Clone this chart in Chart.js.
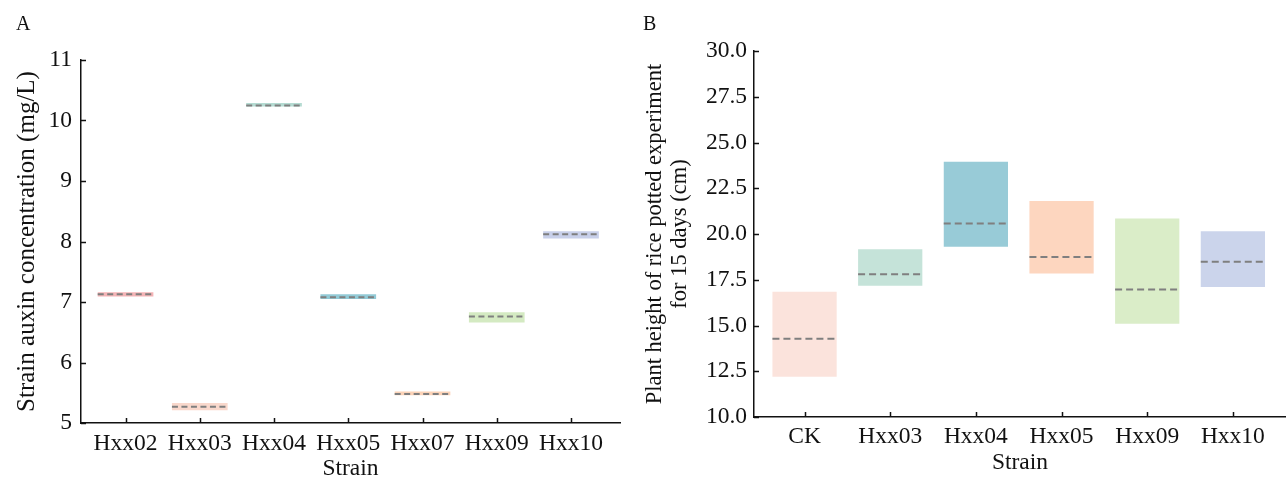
<!DOCTYPE html>
<html lang="en">
  <head>
    <meta charset="UTF-8" />
    <title>Strain auxin and rice height</title>
    <style>
      body {
        margin: 0;
        background: #fff;
        font-family: "Liberation Serif", "Times New Roman", serif;
      }
      #wrap {
        position: relative;
        width: 1286px;
        height: 483px;
        overflow: hidden;
      }
      .panel {
        position: absolute;
        top: 0;
        height: 483px;
      }
      #boxA { left: 0; width: 640px; }
      #boxB { left: 640px; width: 646px; }
      .tag {
        position: absolute;
        top: 13px;
        font-size: 20px;
        line-height: 20px;
        color: #111;
      }
    </style>
  </head>
  <body>
    <div id="wrap">
      <div class="panel" id="boxA"><canvas id="chartA"></canvas></div>
      <div class="panel" id="boxB"><canvas id="chartB"></canvas></div>
      <div class="tag" style="left:16px">A</div>
      <div class="tag" style="left:643px">B</div>
    </div>

    <script src="https://cdn.jsdelivr.net/npm/chart.js"></script>
    <script>
      // panel A: auxin concentration per strain
      const categoriesA = ["Hxx02", "Hxx03", "Hxx04", "Hxx05", "Hxx07", "Hxx09", "Hxx10"];
      const lowA = [7.09, 5.21, 10.23, 7.05, 5.46, 6.66, 8.05];
      const highA = [7.16, 5.33, 10.29, 7.13, 5.52, 6.83, 8.17];
      const medianA = [7.13, 5.27, 10.25, 7.08, 5.48, 6.76, 8.12];
      const colorsA = ["#f5b4b6", "#f9d8cc", "#b5dbd2", "#92cad6", "#fcd3b8", "#d4eac2", "#c8d0ea"];

      // panel B: plant height after 15 days
      const categoriesB = ["CK", "Hxx03", "Hxx04", "Hxx05", "Hxx09", "Hxx10"];
      const lowB = [12.2, 17.17, 19.3, 17.84, 15.1, 17.1];
      const highB = [16.85, 19.16, 23.95, 21.8, 20.85, 20.15];
      const medianB = [14.27, 17.8, 20.58, 18.75, 16.97, 18.48];
      const colorsB = ["#fbe3dc", "#c5e3d9", "#98cbd7", "#fdd6bf", "#daedc8", "#cbd4eb"];

      const serif = "'Liberation Serif', 'Times New Roman', serif";
      const ink = "#111";

      // dashed median line across each bar + inward tick marks
      const medianPlugin = {
        id: "medians",
        afterDatasetsDraw(chart, args, opts) {
          const ctx = chart.ctx;
          const y = chart.scales.y;
          const bars = chart.getDatasetMeta(0).data;
          ctx.save();
          ctx.strokeStyle = "#7f7f7f";
          ctx.lineWidth = 2;
          ctx.setLineDash(opts.dash);
          bars.forEach((bar, i) => {
            const py = y.getPixelForValue(opts.values[i]);
            ctx.beginPath();
            ctx.moveTo(bar.x - bar.width / 2, py);
            ctx.lineTo(bar.x + bar.width / 2, py);
            ctx.stroke();
          });
          ctx.restore();
        },
        afterDraw(chart) {
          const ctx = chart.ctx;
          const {x, y} = chart.scales;
          const area = chart.chartArea;
          ctx.save();
          ctx.strokeStyle = ink;
          ctx.lineWidth = 1.5;
          ctx.beginPath();
          y.ticks.forEach((t, i) => {
            const py = Math.round(y.getPixelForTick(i)) + 0.5;
            ctx.moveTo(area.left, py);
            ctx.lineTo(area.left + 5, py);
          });
          x.ticks.forEach((t, i) => {
            const px = Math.round(x.getPixelForTick(i)) + 0.5;
            ctx.moveTo(px, area.bottom);
            ctx.lineTo(px, area.bottom - 5);
          });
          ctx.stroke();
          ctx.restore();
        },
      };

      function makeChart(id, cfg) {
        const data = cfg.categories.map((c, i) => ({x: i, y: [cfg.low[i], cfg.high[i]]}));
        return new Chart(document.getElementById(id), {
          type: "bar",
          data: {
            datasets: [
              {
                data: data,
                backgroundColor: cfg.colors,
                borderWidth: 0,
                categoryPercentage: 0.75,
                barPercentage: 1.0,
              },
            ],
          },
          plugins: [medianPlugin],
          options: {
            responsive: true,
            maintainAspectRatio: false,
            animation: false,
            layout: {padding: cfg.padding},
            plugins: {
              legend: {display: false},
              tooltip: {enabled: false},
              medians: {values: cfg.medians, dash: cfg.dash},
            },
            scales: {
              x: {
                type: "linear",
                offset: false,
                min: cfg.xMin,
                max: cfg.xMax,
                grid: {display: false, drawTicks: false, offset: false},
                border: {display: true, color: ink, width: 1.5},
                afterFit: (s) => { s.height = cfg.xHeight; },
                ticks: {
                  stepSize: 1,
                  includeBounds: false,
                  autoSkip: false,
                  maxRotation: 0,
                  padding: cfg.xPad,
                  color: ink,
                  font: {family: serif, size: 23.5},
                  callback: (v) => cfg.categories[v] ?? "",
                },
                title: {
                  display: true,
                  text: "Strain",
                  color: ink,
                  padding: 0,
                  font: {family: serif, size: 23.5},
                },
              },
              y: {
                min: cfg.yMin,
                max: cfg.yMax,
                grid: {display: false, drawTicks: false},
                border: {display: true, color: ink, width: 1.5},
                afterFit: (s) => { s.width = cfg.yWidth; },
                ticks: {
                  stepSize: cfg.yStep,
                  padding: cfg.yPad,
                  color: ink,
                  font: {family: serif, size: 23.5},
                  callback: cfg.yFormat,
                },
                title: {
                  display: true,
                  text: cfg.yTitle,
                  color: ink,
                  padding: 0,
                  font: {family: serif, size: cfg.yTitleSize, lineHeight: 1.1},
                },
              },
            },
          },
        });
      }

      makeChart("chartA", {
        categories: categoriesA,
        low: lowA,
        high: highA,
        medians: medianA,
        colors: colorsA,
        dash: [6, 3.5],
        padding: {left: 14, top: 60, right: 20, bottom: 0},
        xMin: -0.6,
        xMax: 6.66,
        xHeight: 60,
        xPad: 7,
        yMin: 5,
        yMax: 11,
        yStep: 1,
        yWidth: 67,
        yPad: 9,
        yFormat: (v) => v.toString(),
        yTitle: "Strain auxin concentration (mg/L)",
        yTitleSize: 25,
      });

      makeChart("chartB", {
        categories: categoriesB,
        low: lowB,
        high: highB,
        medians: medianB,
        colors: colorsB,
        dash: [7, 4],
        padding: {left: 3, top: 51, right: 0, bottom: 6},
        xMin: -0.59,
        xMax: 5.62,
        xHeight: 60,
        xPad: 6,
        yMin: 10,
        yMax: 30,
        yStep: 2.5,
        yWidth: 111,
        yPad: 7,
        yFormat: (v) => v.toFixed(1),
        yTitle: ["Plant height of rice potted experiment", "for 15 days (cm)"],
        yTitleSize: 22.5,
      });
    </script>
  </body>
</html>
